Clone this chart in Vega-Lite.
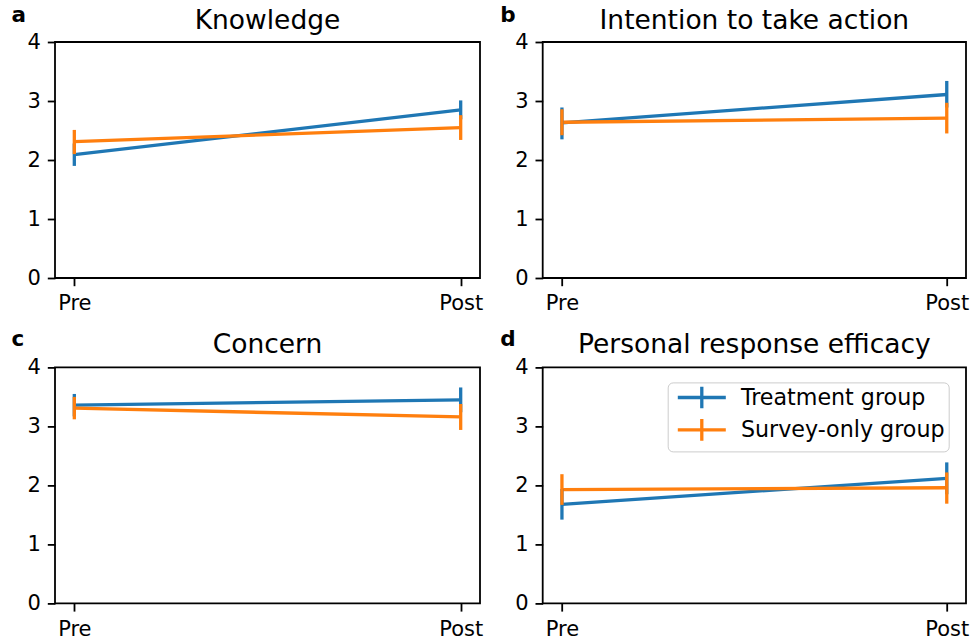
{
  "$schema": "https://vega.github.io/schema/vega-lite/v6.json",
  "background": "white",
  "padding": {"left": 10, "top": 3, "right": 5, "bottom": 2},
  "bounds": "flush",
  "spacing": {"row": 89.4, "column": 62.7},
  "columns": 2,
  "data": {
    "values": [
      {"panel": "Knowledge", "group": "Treatment group", "time": "Pre", "mean": 2.09, "lo": 1.90, "hi": 2.28},
      {"panel": "Knowledge", "group": "Treatment group", "time": "Post", "mean": 2.85, "lo": 2.69, "hi": 3.01},
      {"panel": "Knowledge", "group": "Survey-only group", "time": "Pre", "mean": 2.31, "lo": 2.10, "hi": 2.51},
      {"panel": "Knowledge", "group": "Survey-only group", "time": "Post", "mean": 2.55, "lo": 2.34, "hi": 2.76},
      {"panel": "Intention to take action", "group": "Treatment group", "time": "Pre", "mean": 2.63, "lo": 2.35, "hi": 2.89},
      {"panel": "Intention to take action", "group": "Treatment group", "time": "Post", "mean": 3.11, "lo": 2.89, "hi": 3.34},
      {"panel": "Intention to take action", "group": "Survey-only group", "time": "Pre", "mean": 2.64, "lo": 2.42, "hi": 2.86},
      {"panel": "Intention to take action", "group": "Survey-only group", "time": "Post", "mean": 2.71, "lo": 2.45, "hi": 2.97},
      {"panel": "Concern", "group": "Treatment group", "time": "Pre", "mean": 3.36, "lo": 3.17, "hi": 3.55},
      {"panel": "Concern", "group": "Treatment group", "time": "Post", "mean": 3.45, "lo": 3.24, "hi": 3.66},
      {"panel": "Concern", "group": "Survey-only group", "time": "Pre", "mean": 3.31, "lo": 3.12, "hi": 3.50},
      {"panel": "Concern", "group": "Survey-only group", "time": "Post", "mean": 3.16, "lo": 2.94, "hi": 3.38},
      {"panel": "Personal response efficacy", "group": "Treatment group", "time": "Pre", "mean": 1.68, "lo": 1.42, "hi": 1.94},
      {"panel": "Personal response efficacy", "group": "Treatment group", "time": "Post", "mean": 2.12, "lo": 1.85, "hi": 2.39},
      {"panel": "Personal response efficacy", "group": "Survey-only group", "time": "Pre", "mean": 1.93, "lo": 1.67, "hi": 2.19},
      {"panel": "Personal response efficacy", "group": "Survey-only group", "time": "Post", "mean": 1.96, "lo": 1.69, "hi": 2.22}
    ]
  },
  "resolve": {"legend": {"color": "independent"}},
  "config": {
    "font": "DejaVu Sans",
    "view": {"stroke": "black", "strokeWidth": 1.8},
    "axis": {
      "grid": false,
      "domain": false,
      "ticks": true,
      "tickColor": "black",
      "tickWidth": 1.8,
      "tickSize": 7.7,
      "labelColor": "black",
      "labelFontSize": 21,
      "labelFont": "DejaVu Sans",
      "labelPadding": 7
    },
    "title": {"fontSize": 26.5, "fontWeight": "normal", "color": "black", "font": "DejaVu Sans", "offset": -30.5, "frame": "group", "anchor": "middle"}
  },
  "concat": [
    {
      "width": 425, "height": 236,
      "title": "Knowledge",
      "transform": [{"filter": "datum.panel === 'Knowledge'"}],
      "encoding": {
        "x": {"field": "time", "type": "nominal", "sort": ["Pre", "Post"], "scale": {"type": "point", "padding": 0.05}, "axis": {"title": null, "labelAngle": 0, "labelFontSize": 21}},
        "color": {"field": "group", "type": "nominal", "scale": {"domain": ["Treatment group", "Survey-only group"], "range": ["#1f77b4", "#ff7f0e"]}, "legend": null}
      },
      "layer": [
        {"mark": {"type": "line", "strokeWidth": 3.3},
         "encoding": {"y": {"field": "mean", "type": "quantitative", "scale": {"domain": [0, 4]},
           "axis": {"values": [0, 1, 2, 3, 4], "format": "d", "labelFontSize": 21, "title": "a", "titleAngle": 0, "titleAlign": "left", "titleBaseline": "alphabetic", "titleX": -44, "titleY": -21, "titleFontSize": 21.5, "titleFontWeight": "bold", "titleColor": "black"}}}},
        {"mark": {"type": "rule", "strokeWidth": 3.3},
         "encoding": {"y": {"field": "lo", "type": "quantitative"}, "y2": {"field": "hi"}}}
      ]
    },
    {
      "width": 423.3, "height": 236,
      "title": "Intention to take action",
      "transform": [{"filter": "datum.panel === 'Intention to take action'"}],
      "encoding": {
        "x": {"field": "time", "type": "nominal", "sort": ["Pre", "Post"], "scale": {"type": "point", "padding": 0.05}, "axis": {"title": null, "labelAngle": 0, "labelFontSize": 21}},
        "color": {"field": "group", "type": "nominal", "scale": {"domain": ["Treatment group", "Survey-only group"], "range": ["#1f77b4", "#ff7f0e"]}, "legend": null}
      },
      "layer": [
        {"mark": {"type": "line", "strokeWidth": 3.3},
         "encoding": {"y": {"field": "mean", "type": "quantitative", "scale": {"domain": [0, 4]},
           "axis": {"values": [0, 1, 2, 3, 4], "format": "d", "labelFontSize": 21, "title": "b", "titleAngle": 0, "titleAlign": "left", "titleBaseline": "alphabetic", "titleX": -43, "titleY": -21, "titleFontSize": 21.5, "titleFontWeight": "bold", "titleColor": "black"}}}},
        {"mark": {"type": "rule", "strokeWidth": 3.3},
         "encoding": {"y": {"field": "lo", "type": "quantitative"}, "y2": {"field": "hi"}}}
      ]
    },
    {
      "width": 425, "height": 236,
      "title": "Concern",
      "transform": [{"filter": "datum.panel === 'Concern'"}],
      "encoding": {
        "x": {"field": "time", "type": "nominal", "sort": ["Pre", "Post"], "scale": {"type": "point", "padding": 0.05}, "axis": {"title": null, "labelAngle": 0, "labelFontSize": 21}},
        "color": {"field": "group", "type": "nominal", "scale": {"domain": ["Treatment group", "Survey-only group"], "range": ["#1f77b4", "#ff7f0e"]}, "legend": null}
      },
      "layer": [
        {"mark": {"type": "line", "strokeWidth": 3.3},
         "encoding": {"y": {"field": "mean", "type": "quantitative", "scale": {"domain": [0, 4]},
           "axis": {"values": [0, 1, 2, 3, 4], "format": "d", "labelFontSize": 21, "title": "c", "titleAngle": 0, "titleAlign": "left", "titleBaseline": "alphabetic", "titleX": -44, "titleY": -22, "titleFontSize": 21.5, "titleFontWeight": "bold", "titleColor": "black"}}}},
        {"mark": {"type": "rule", "strokeWidth": 3.3},
         "encoding": {"y": {"field": "lo", "type": "quantitative"}, "y2": {"field": "hi"}}}
      ]
    },
    {
      "width": 423.3, "height": 236,
      "title": "Personal response efficacy",
      "transform": [{"filter": "datum.panel === 'Personal response efficacy'"}],
      "encoding": {
        "x": {"field": "time", "type": "nominal", "sort": ["Pre", "Post"], "scale": {"type": "point", "padding": 0.05}, "axis": {"title": null, "labelAngle": 0, "labelFontSize": 21}},
        "color": {"field": "group", "type": "nominal", "scale": {"domain": ["Treatment group", "Survey-only group"], "range": ["#1f77b4", "#ff7f0e"]},
          "legend": {"title": null, "orient": "none", "legendX": 125, "legendY": 15, "padding": 4,
            "strokeColor": "#cccccc", "fillColor": "rgba(255,255,255,0.8)", "cornerRadius": 5,
            "symbolType": "M-1,0H8.6M3.8,-2.17V2.17", "symbolSize": 100, "symbolStrokeWidth": 3.3, "symbolFillColor": "transparent",
            "labelFontSize": 22.2, "labelFont": "DejaVu Sans", "labelColor": "black", "labelLimit": 0, "labelOffset": 47, "labelExpr": "datum.label + ' '", "rowPadding": -3.6}}
      },
      "layer": [
        {"mark": {"type": "line", "strokeWidth": 3.3},
         "encoding": {"y": {"field": "mean", "type": "quantitative", "scale": {"domain": [0, 4]},
           "axis": {"values": [0, 1, 2, 3, 4], "format": "d", "labelFontSize": 21, "title": "d", "titleAngle": 0, "titleAlign": "left", "titleBaseline": "alphabetic", "titleX": -43, "titleY": -22, "titleFontSize": 21.5, "titleFontWeight": "bold", "titleColor": "black"}}}},
        {"mark": {"type": "rule", "strokeWidth": 3.3},
         "encoding": {"y": {"field": "lo", "type": "quantitative"}, "y2": {"field": "hi"}}}
      ]
    }
  ]
}
